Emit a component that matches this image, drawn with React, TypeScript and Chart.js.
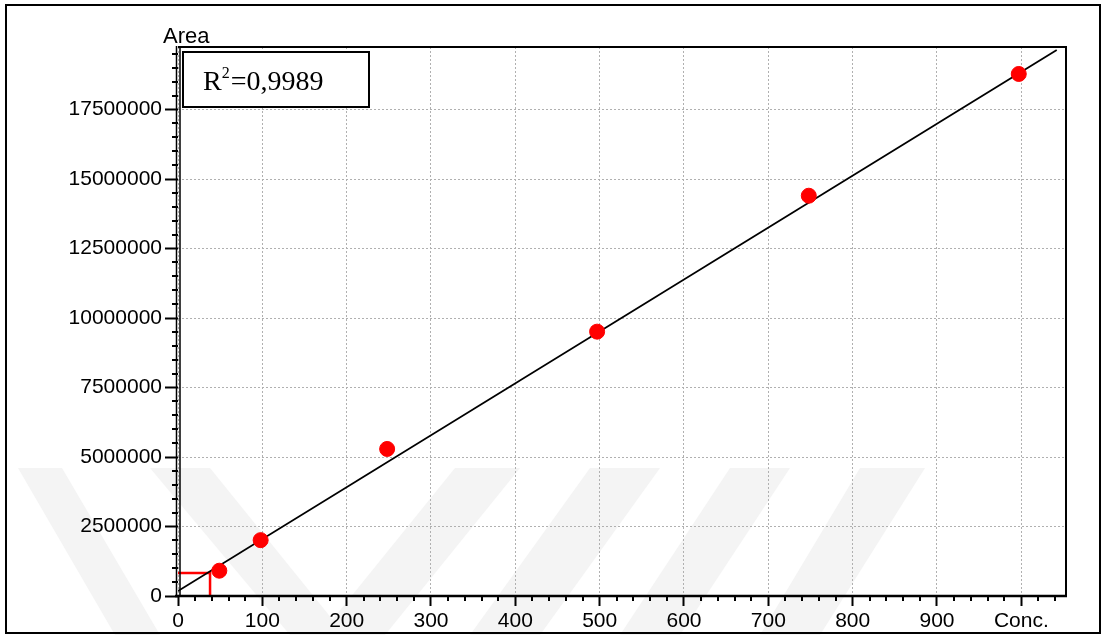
import React, { useEffect, useRef } from 'react';
import { Chart, registerables } from 'chart.js';

Chart.register(...registerables);

// ---- data ----
const concentrations = [49, 98, 248, 497, 748, 997];
const areas = [910000, 2010000, 5290000, 9510000, 14400000, 18780000];

// calibration fit line, drawn through its two end points
const fitX = [0, 1042];
const fitY = [180000, 19640000];

// red LOD/LOQ marker
const lodX = [0, 38, 38];
const lodY = [830000, 830000, 0];

const xTickValues = [0, 100, 200, 300, 400, 500, 600, 700, 800, 900, 1000];
const xTickLabels = ['0', '100', '200', '300', '400', '500', '600', '700', '800', '900', 'Conc.'];
const yTickValues = [0, 2500000, 5000000, 7500000, 10000000, 12500000, 15000000, 17500000];
const yTickLabels = ['0', '2500000', '5000000', '7500000', '10000000', '12500000', '15000000', '17500000'];

const X_MIN = 0;
const X_MAX = 1053;
const Y_MIN = 0;
const Y_MAX = 19750000;
const X_MINOR_STEP = 20;
const Y_MINOR_STEP = 500000;

const yTitle = 'Area';
const r2Main = 'R';
const r2Sup = '2';
const r2Rest = '=0,9989';

// faint background watermark bands (decorative)
const watermarkBands: number[][] = [
  [18, 468, 62, 468, 160, 635, 115, 635],
  [150, 468, 210, 468, 345, 635, 290, 635],
  [455, 468, 520, 468, 385, 635, 320, 635],
  [590, 468, 660, 468, 540, 635, 470, 635],
  [730, 468, 790, 468, 680, 635, 620, 635],
  [860, 468, 925, 468, 820, 635, 760, 635],
];

const SANS = "'Liberation Sans', Arial, sans-serif";
const SERIF = "'Liberation Serif', 'Times New Roman', serif";

const decorPlugin = {
  id: 'decor',
  beforeDraw(chart: any) {
    const ctx = chart.ctx;
    ctx.save();
    ctx.fillStyle = '#ffffff';
    ctx.fillRect(0, 0, chart.width, chart.height);
    ctx.fillStyle = '#f4f4f4';
    for (const b of watermarkBands) {
      ctx.beginPath();
      ctx.moveTo(b[0], b[1]);
      for (let i = 2; i < b.length; i += 2) ctx.lineTo(b[i], b[i + 1]);
      ctx.closePath();
      ctx.fill();
    }
    ctx.restore();
  },
  afterDraw(chart: any) {
    const ctx = chart.ctx;
    const { left, right, top, bottom } = chart.chartArea;
    const xs = chart.scales.x;
    const ys = chart.scales.y;
    ctx.save();

    // minor ticks
    ctx.strokeStyle = '#000';
    ctx.lineWidth = 2;
    ctx.beginPath();
    for (let v = X_MIN + X_MINOR_STEP; v < X_MAX; v += X_MINOR_STEP) {
      if (v % 100 === 0) continue;
      const px = Math.round(xs.getPixelForValue(v));
      ctx.moveTo(px, bottom);
      ctx.lineTo(px, bottom + 5);
    }
    for (let v = Y_MIN + Y_MINOR_STEP; v < Y_MAX; v += Y_MINOR_STEP) {
      if (v % 2500000 === 0) continue;
      const py = Math.round(ys.getPixelForValue(v));
      ctx.moveTo(left, py);
      ctx.lineTo(left - 6, py);
    }
    ctx.stroke();

    // plot frame (top / right)
    ctx.lineWidth = 2;
    ctx.beginPath();
    ctx.moveTo(left, top);
    ctx.lineTo(right, top);
    ctx.lineTo(right, bottom);
    ctx.stroke();

    // bottom axis
    ctx.lineWidth = 2.5;
    ctx.beginPath();
    ctx.moveTo(left - 3, bottom);
    ctx.lineTo(right + 1, bottom);
    ctx.stroke();

    // left double axis line
    ctx.lineWidth = 1.5;
    ctx.beginPath();
    ctx.moveTo(left - 1.5, top - 1);
    ctx.lineTo(left - 1.5, bottom + 1);
    ctx.moveTo(left + 2, top - 1);
    ctx.lineTo(left + 2, bottom + 1);
    ctx.stroke();

    // y title
    ctx.fillStyle = '#000';
    ctx.font = `22px ${SANS}`;
    ctx.textBaseline = 'alphabetic';
    ctx.textAlign = 'left';
    ctx.fillText(yTitle, 163, 43);

    // R^2 box
    ctx.fillStyle = '#fff';
    ctx.fillRect(183, 52, 186, 55);
    ctx.strokeStyle = '#000';
    ctx.lineWidth = 2;
    ctx.strokeRect(183, 52, 186, 55);
    ctx.fillStyle = '#000';
    ctx.font = `28px ${SERIF}`;
    let tx = 203;
    ctx.fillText(r2Main, tx, 90);
    tx += ctx.measureText(r2Main).width;
    ctx.font = `16px ${SERIF}`;
    ctx.fillText(r2Sup, tx, 78);
    tx += ctx.measureText(r2Sup).width + 1;
    ctx.font = `28px ${SERIF}`;
    ctx.fillText(r2Rest, tx, 90);

    // outer frame
    ctx.lineWidth = 2;
    ctx.strokeRect(6, 5, 1094, 628);
    ctx.restore();
  },
};

export default function App() {
  const ref = useRef<HTMLCanvasElement | null>(null);

  useEffect(() => {
    if (!ref.current) return;
    const pointData = concentrations.map((x, i) => ({ x, y: areas[i] }));
    const fitData = fitX.map((x, i) => ({ x, y: fitY[i] }));
    const lodData = lodX.map((x, i) => ({ x, y: lodY[i] }));

    const chart = new Chart(ref.current, {
      type: 'scatter',
      data: {
        datasets: [
          {
            label: 'Standards',
            data: pointData,
            backgroundColor: '#ff0000',
            borderColor: '#ff0000',
            pointRadius: 7.5,
            pointHoverRadius: 7.5,
            order: 0,
          },
          {
            label: 'Fit',
            data: fitData,
            showLine: true,
            borderColor: '#000000',
            borderWidth: 1.8,
            pointRadius: 0,
            order: 1,
          },
          {
            label: 'LOD',
            data: lodData,
            showLine: true,
            borderColor: '#ff0000',
            borderWidth: 2.5,
            pointRadius: 0,
            order: 2,
          },
        ],
      },
      options: {
        responsive: false,
        animation: false,
        devicePixelRatio: 1,
        layout: { padding: { left: 0, top: 47, right: 39, bottom: 0 } },
        plugins: {
          legend: { display: false },
          tooltip: { enabled: false },
        },
        scales: {
          x: {
            type: 'linear',
            min: X_MIN,
            max: X_MAX,
            afterBuildTicks: (scale: any) => {
              scale.ticks = xTickValues.map((v) => ({ value: v }));
            },
            afterFit: (scale: any) => {
              scale.height = 39;
            },
            ticks: {
              includeBounds: false,
              autoSkip: false,
              maxRotation: 0,
              padding: 3,
              color: '#000',
              font: { family: SANS, size: 21 },
              callback: (value: any) => {
                const i = xTickValues.indexOf(Number(value));
                return i >= 0 ? xTickLabels[i] : '';
              },
            },
            grid: {
              color: '#b0b0b0',
              lineWidth: 1,
              tickColor: '#000',
              tickLength: 10,
              tickWidth: 2,
            },
            border: { display: false, dash: [2, 2] },
          },
          y: {
            type: 'linear',
            min: Y_MIN,
            max: Y_MAX,
            afterBuildTicks: (scale: any) => {
              scale.ticks = yTickValues.map((v) => ({ value: v }));
            },
            afterFit: (scale: any) => {
              scale.width = 178;
            },
            ticks: {
              includeBounds: false,
              autoSkip: false,
              padding: 3,
              color: '#000',
              font: { family: SANS, size: 21 },
              callback: (value: any) => {
                const i = yTickValues.indexOf(Number(value));
                return i >= 0 ? yTickLabels[i] : '';
              },
            },
            grid: {
              color: '#b0b0b0',
              lineWidth: 1,
              tickColor: '#000',
              tickLength: 13,
              tickWidth: 2,
            },
            border: { display: false, dash: [2, 2] },
          },
        },
      },
      plugins: [decorPlugin],
    });
    return () => chart.destroy();
  }, []);

  return (
    <div style={{ position: 'fixed', left: 0, top: 0, width: 1105, height: 635 }}>
      <canvas ref={ref} width={1105} height={635} style={{ display: 'block' }} />
    </div>
  );
}
